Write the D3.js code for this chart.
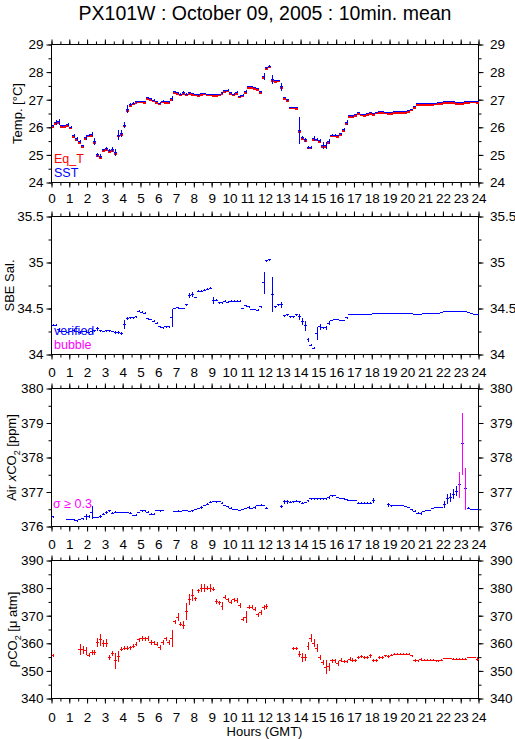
<!DOCTYPE html>
<html>
<head>
<meta charset="utf-8">
<script src="https://cdn.jsdelivr.net/npm/d3@7"></script>
<style>
  body { margin: 0; background: #fff; }
  svg { font-family: "Liberation Sans", Arial, Helvetica, sans-serif; }
  .axis path { display: none; }
  .axis line { stroke: #000; }
  .axis text { font-family: "Liberation Sans Narrow", "Arial Narrow", "Liberation Sans", Arial, sans-serif; font-size: 13.5px; fill: #000; }
</style>
</head>
<body>
<div class="chart"></div>
<script>
// 10-min means, 144 per day, index i -> hour i/6

const hourTicks = d3.range(0, 25, 1);

// Temp [°C]
const sst = [
  26.05, 26.18, 26.20, 26.05, 26.06, 26.10,
  26.00, 25.70, 25.58, 25.48, 25.33, 25.63,
  25.72, 25.75, 25.48, 25.00, 24.95, 25.18,
  25.24, 25.15, 25.20, 25.08, 25.72, 25.78,
  26.08, 26.65, 26.82, 26.88, 26.92, 26.94,
  26.94, 26.93, 27.07, 27.03, 26.98, 26.93,
  26.88, 26.95, 26.93, 26.92, 27.05, 27.29,
  27.25, 27.20, 27.25, 27.20, 27.25, 27.22,
  27.20, 27.18, 27.22, 27.23, 27.20, 27.20,
  27.18, 27.18, 27.20, 27.25, 27.32, 27.35,
  27.25, 27.20, 27.27, 27.13, 27.17, 27.29,
  27.47, 27.48, 27.45, 27.40, 27.29, 27.83,
  28.16, 28.22, 27.73, 27.70, 27.70, 27.47,
  27.08, 27.00, 26.72, 26.72, 26.71, 25.88,
  25.63, 25.54, 25.28, 25.28, 25.60, 25.57,
  25.52, 25.33, 25.33, 25.48, 25.72, 25.72,
  25.69, 25.76, 25.93, 26.17, 26.41, 26.41,
  26.45, 26.53, 26.48, 26.45, 26.50, 26.53,
  26.50, 26.55, 26.57, 26.57, 26.55, 26.53,
  26.53, 26.56, 26.57, 26.57, 26.57, 26.57,
  26.60, 26.65, 26.75, 26.87, 26.87, 26.87,
  26.87, 26.87, 26.87, 26.88, 26.89, 26.89,
  26.93, 26.93, 26.93, 26.92, 26.90, 26.89,
  26.89, 26.92, 26.94, 26.95, 26.95, 26.92
];
const sstErr = [
  .03, .10, .10, .03, .03, .04,
  .03, .05, .06, .05, .04, .10,
  .05, .07, .12, .08, .07, .05,
  .05, .05, .10, .12, .18, .12,
  .12, .14, .05, .03, .03, .02,
  .02, .02, .04, .03, .03, .03,
  .03, .03, .02, .03, .08, .04,
  .04, .03, .05, .03, .04, .02,
  .02, .03, .02, .02, .02, .02,
  .02, .02, .02, .03, .03, .03,
  .03, .03, .03, .03, .03, .05,
  .02, .03, .02, .02, .03, .12,
  .03, .02, .15, .02, .02, .15,
  .03, .03, .02, .02, .02, .50,
  .07, .06, .06, .06, .08, .06,
  .04, .12, .12, .08, .02, .02,
  .02, .03, .06, .08, .02, .02,
  .02, .02, .02, .02, .02, .02,
  .02, .02, .01, .01, .02, .02,
  .01, .01, .01, .01, .01, .01,
  .02, .02, .03, .01, .01, .01,
  .01, .01, .01, .01, .01, .01,
  .01, .01, .01, .01, .01, .01,
  .01, .02, .01, .01, .01, .02
];
const eqT = [
  26.03, 26.15, 26.17, 26.03, 26.04, 26.07,
  25.98, 25.68, 25.55, 25.45, 25.31, 25.60,
  25.69, 25.72, 25.45, 24.97, 24.92, 25.15,
  25.21, 25.12, 25.17, 25.05, 25.69, 25.75,
  26.05, 26.62, 26.79, 26.86, 26.90, 26.92,
  26.92, 26.91, 27.04, 27.00, 26.96, 26.91,
  26.86, 26.93, 26.91, 26.90, 27.02, 27.26,
  27.23, 27.19, 27.22, 27.18, 27.22, 27.20,
  27.18, 27.16, 27.20, 27.21, 27.18, 27.18,
  27.16, 27.16, 27.18, 27.22, 27.29, 27.32,
  27.22, 27.18, 27.24, 27.10, 27.14, 27.26,
  27.44, 27.45, 27.42, 27.37, 27.26, 27.80,
  28.13, 28.19, 27.70, 27.67, 27.68, 27.44,
  27.05, 26.97, 26.70, 26.70, 26.69, 25.86,
  25.60, 25.51, 25.26, 25.26, 25.57, 25.54,
  25.49, 25.31, 25.31, 25.45, 25.69, 25.69,
  25.66, 25.73, 25.90, 26.14, 26.38, 26.38,
  26.42, 26.50, 26.45, 26.42, 26.47, 26.50,
  26.47, 26.52, 26.54, 26.54, 26.52, 26.50,
  26.50, 26.53, 26.55, 26.55, 26.55, 26.55,
  26.58, 26.63, 26.72, 26.84, 26.84, 26.84,
  26.84, 26.84, 26.84, 26.85, 26.86, 26.86,
  26.90, 26.90, 26.90, 26.89, 26.87, 26.86,
  26.86, 26.89, 26.91, 26.92, 26.92, 26.89
];

// SBE salinity
const sal = [
  34.32, 34.32, 34.27, 34.25, 34.25, 34.24,
  34.25, 34.26, 34.25, 34.24, 34.25, 34.25,
  34.24, 34.25, 34.26, 34.28, 34.26, 34.25,
  34.26, 34.26, 34.25, 34.24, 34.24, 34.23,
  34.33, 34.39, 34.40, 34.40, 34.41, 34.47,
  34.46, 34.45, 34.39, 34.38, 34.36, 34.34,
  34.30, 34.29, 34.30, 34.30, 34.40, 34.50,
  34.51, 34.50, 34.50, 34.54, 34.64, 34.65,
  34.62, 34.69, 34.69, 34.70, 34.71, 34.72,
  34.59, 34.59, 34.56, 34.56, 34.58, 34.57,
  34.58, 34.58, 34.58, 34.58, 34.50, 34.53,
  34.52, 34.49, 34.49, 34.48, 34.52, 34.78,
  35.02, 35.03, 34.65, 34.52, 34.54, 34.54,
  34.42, 34.43, 34.41, 34.41, 34.43, 34.41,
  34.36, 34.31, 34.16, 34.10, 34.07, 34.23,
  34.30, 34.29, 34.29, 34.34, 34.37, 34.38,
  34.38, 34.37, 34.37, 34.40, 34.43, 34.43,
  34.43, 34.44, 34.44, 34.44, 34.44, 34.44,
  34.45, 34.45, 34.45, 34.45, 34.45, 34.45,
  34.45, 34.45, 34.45, 34.45, 34.45, 34.45,
  34.45, 34.45, 34.43, 34.44, 34.44, 34.45,
  34.45, 34.45, 34.45, 34.45, 34.45, 34.46,
  34.47, 34.47, 34.47, 34.47, 34.47, 34.47,
  34.47, 34.47, 34.46, 34.45, 34.44, 34.43
];
const salErr = [
  .01, .01, .02, .01, .01, .01,
  .01, .02, .01, .02, .01, .02,
  .01, .02, .01, .02, .01, .01,
  .01, .01, .01, .02, .02, .02,
  .05, .02, .01, .01, .01, .01,
  .01, .01, .01, .01, .01, .01,
  .01, .01, .01, .01, .10, .01,
  .01, .01, .01, .01, .03, .03,
  .01, .01, .01, .01, .01, .01,
  .04, .01, .01, .01, .01, .01,
  .01, .01, .01, .01, .01, .01,
  .01, .01, .01, .01, .01, .12,
  .01, .01, .19, .01, .01, .03,
  .01, .01, .01, .01, .01, .03,
  .04, .05, .02, .01, .01, .07,
  .03, .01, .02, .02, .01, .01,
  .01, .01, .01, .01, .00, .00,
  .00, .00, .00, .00, .00, .00,
  .00, .00, .00, .00, .00, .00,
  .00, .00, .00, .00, .00, .00,
  .00, .00, .00, .00, .00, .00,
  .00, .00, .00, .00, .00, .00,
  .00, .00, .00, .00, .00, .00,
  .00, .00, .00, .00, .00, .00
];

// Air xCO2 [ppm], null = no data
const xco2 = [
  376.28, null, null, null, null, 376.21,
  376.21, 376.19, 376.17, 376.20, 376.23, 376.28,
  376.30, 376.40, 376.26, 376.26, 376.29, 376.36,
  376.41, 376.46, 376.38, 376.41, 376.41, 376.41,
  376.41, 376.41, 376.38, 376.31, 376.33, 376.40,
  376.46, 376.46, 376.41, 376.36, 376.36, 376.46,
  376.46, 376.46, null, null, null, 376.43,
  376.44, 376.44, 376.46, 376.46, 376.43, 376.46,
  376.50, 376.53, 376.55, 376.60, 376.65, 376.70,
  376.72, 376.72, 376.72, 376.68, 376.60, 376.57,
  376.53, 376.50, 376.50, 376.47, 376.50, 376.53,
  376.55, 376.53, 376.55, 376.60, 376.62, 376.60,
  376.53, null, null, null, null, 376.59,
  376.72, 376.72, 376.70, 376.72, 376.73, 376.72,
  376.68, 376.70, 376.75, 376.80, 376.80, 376.80,
  376.80, 376.80, 376.80, 376.84, 376.89, 376.89,
  376.84, 376.82, 376.80, 376.77, 376.75, 376.75,
  376.75, 376.68, 376.68, 376.68, 376.68, 376.68,
  376.75, null, null, null, null, 376.63,
  376.60, 376.60, 376.60, 376.60, 376.60, 376.58,
  376.55, 376.49, 376.44, 376.39, 376.38, 376.43,
  376.46, 376.47, 376.53, 376.55, 376.55, 376.55,
  376.65, 376.80, 376.84, 376.94, 377.02, 377.21,
  378.40, 377.09, 376.53, 376.50, 376.50, 376.50
];
const xco2Err = [
  .02, 0, 0, 0, 0, .02,
  .02, .03, .03, .02, .03, .08,
  .04, .18, .02, .02, .03, .03,
  .04, .03, .03, .03, .02, .02,
  .02, .02, .03, .02, .03, .02,
  .03, .03, .03, .02, .03, .02,
  .03, .02, 0, 0, 0, .02,
  .03, .02, .02, .02, .02, .03,
  .02, .02, .03, .02, .02, .03,
  .02, .03, .02, .03, .02, .02,
  .03, .02, .02, .02, .02, .02,
  .03, .02, .03, .02, .03, .02,
  .03, 0, 0, 0, 0, .04,
  .06, .06, .03, .03, .03, .03,
  .02, .02, .03, .03, .02, .02,
  .02, .02, .02, .03, .03, .02,
  .02, .02, .02, .02, .02, .02,
  .02, .02, .02, .02, .02, .02,
  .08, 0, 0, 0, 0, .06,
  .03, .02, .02, .02, .02, .02,
  .02, .03, .03, .04, .04, .02,
  .02, .02, .02, .02, .02, .02,
  .10, .15, .12, .15, .15, .38,
  .90, .62, .03, .02, .02, .02
];

// pCO2 [µatm], null = no data
const pco2 = [
  355.7, null, null, null, null, null,
  null, null, null, 357.9, 357.6, 357.3,
  355.7, 356.6, 356.6, 360.3, 361.2, 360.0,
  360.0, 354.9, 356.3, 353.6, 355.1, 357.9,
  358.2, 358.2, 358.4, 359.0, 359.7, 361.2,
  361.8, 361.6, 361.8, 360.3, 360.2, 359.7,
  358.5, 360.3, 361.6, 360.3, 361.8, 367.8,
  369.4, 366.9, 366.6, 371.5, 375.7, 377.5,
  376.1, 379.0, 380.0, 380.0, 380.0, 380.0,
  379.6, 375.1, 374.7, 373.5, 376.7, 375.7,
  374.9, 375.7, 375.5, 373.7, 368.7, 369.4,
  373.1, 373.1, 372.4, 370.3, 371.2, 372.9,
  373.3, null, null, null, null, null,
  null, null, null, 358.2, 358.2, 356.1,
  354.9, 354.9, 359.0, 361.8, 360.0, 358.2,
  354.9, 353.0, 351.3, 351.5, 353.6, 353.6,
  352.7, 353.9, 353.3, 353.3, 354.3, 353.9,
  353.7, 354.8, 355.1, 354.8, 354.9, 355.4,
  353.9, 353.9, 354.9, 354.9, 355.4, 355.1,
  355.7, 356.1, 356.1, 356.1, 356.1, 356.1,
  356.1, 355.4, 353.9, 353.6, 354.2, 353.9,
  353.9, 353.9, 353.9, 353.7, 353.7, 353.9,
  354.5, 354.5, 354.5, 354.2, 354.2, 354.2,
  354.2, 354.2, 354.8, 354.8, 354.8, 354.3
];
const pco2Err = [
  .5, 0, 0, 0, 0, 0,
  0, 0, 0, 2.0, 1.5, 1.5,
  .8, .8, .8, 1.5, 2.0, 1.2,
  1.5, .8, .8, 3.0, 2.0, .8,
  .8, .8, .8, .8, .8, .8,
  .8, .8, .8, .8, .8, .8,
  .8, .8, .8, .8, 3.0, .8,
  1.5, .8, 1.5, 3.0, 2.0, 2.0,
  .8, .8, 1.5, 1.5, .8, 1.5,
  .8, .8, .8, 1.5, .8, .8,
  .8, .8, .8, .8, .8, 2.2,
  .8, .8, .8, .8, .8, .8,
  .8, 0, 0, 0, 0, 0,
  0, 0, 0, .6, .6, 1.2,
  1.5, 1.3, 1.5, 1.5, 1.5, 1.5,
  .8, .8, 2.5, 1.5, .8, .8,
  .8, .6, .6, .6, .6, .6,
  .6, .6, .6, .6, .6, .6,
  .5, .5, .5, .5, .5, .5,
  .4, .4, .3, .3, .3, .3,
  .3, .5, .5, .5, .5, .3,
  .3, .3, .3, .3, .3, .3,
  .3, .3, .3, .3, .3, .3,
  .3, .3, .3, .3, .3, .8
];

const W = 515, H = 739;
const left = 51.5, right = 478.5;

const svg = d3.select('.chart').append('svg')
  .attr('width', W)
  .attr('height', H);

const x = d3.scaleLinear().domain([0, 24]).range([left, right]);

const panels = [
  {top: 44.5, bottom: 182.5, domain: [24, 29], major: 1, minor: 0.5, fmt: d3.format('d'), label: 'Temp. [°C]', lx: 17.5, xBottom: 11, xTop: null},
  {top: 216.5, bottom: 354.5, domain: [34, 35.5], major: 0.5, minor: 0.25, fmt: d => String(+d.toFixed(2)), label: 'SBE Sal.', lx: 9, xBottom: null, xTop: null},
  {top: 388.5, bottom: 526.5, domain: [376, 380], major: 1, minor: 0.5, fmt: d3.format('d'), label: 'xco2', lx: 11, xBottom: null, xTop: 8},
  {top: 560.5, bottom: 698.5, domain: [340, 390], major: 10, minor: 5, fmt: d3.format('d'), label: 'pco2', lx: 12.5, xBottom: 14, xTop: 8}
];

panels.forEach(p => {
  p.y = d3.scaleLinear().domain(p.domain).range([p.bottom, p.top]);
  const g = svg.append('g');
  p.g = g;

  // x minor / major ticks, top and bottom
  const xMinor = d3.range(0, 24.01, 0.5);
  g.append('g').attr('class', 'axis')
    .attr('transform', `translate(0,${p.bottom})`)
    .call(d3.axisBottom(x).tickValues(xMinor).tickSize(3).tickFormat(''));
  g.append('g').attr('class', 'axis')
    .attr('transform', `translate(0,${p.top})`)
    .call(d3.axisTop(x).tickValues(xMinor).tickSize(3).tickFormat(''));
  g.append('g').attr('class', 'axis')
    .attr('transform', `translate(0,${p.bottom})`)
    .call(d3.axisBottom(x).tickValues(hourTicks).tickSize(5)
      .tickPadding(p.xBottom === null ? 0 : p.xBottom - 5)
      .tickFormat(p.xBottom === null ? '' : d3.format('d')));
  g.append('g').attr('class', 'axis')
    .attr('transform', `translate(0,${p.top})`)
    .call(d3.axisTop(x).tickValues(hourTicks).tickSize(5)
      .tickPadding(p.xTop === null ? 0 : p.xTop - 5 + 4)
      .tickFormat(p.xTop === null ? '' : d3.format('d')));

  // y ticks left and right
  const yMinor = d3.range(p.domain[0], p.domain[1] + 1e-6, p.minor);
  const yMajor = d3.range(p.domain[0], p.domain[1] + 1e-6, p.major);
  g.append('g').attr('class', 'axis')
    .attr('transform', `translate(${left},0)`)
    .call(d3.axisLeft(p.y).tickValues(yMinor).tickSize(3).tickFormat(''));
  g.append('g').attr('class', 'axis')
    .attr('transform', `translate(${right},0)`)
    .call(d3.axisRight(p.y).tickValues(yMinor).tickSize(3).tickFormat(''));
  g.append('g').attr('class', 'axis')
    .attr('transform', `translate(${left},0)`)
    .call(d3.axisLeft(p.y).tickValues(yMajor).tickSize(5).tickPadding(3).tickFormat(p.fmt));
  g.append('g').attr('class', 'axis')
    .attr('transform', `translate(${right},0)`)
    .call(d3.axisRight(p.y).tickValues(yMajor).tickSize(5).tickPadding(6.5).tickFormat(p.fmt));

  g.append('rect')
    .attr('x', left).attr('y', p.top)
    .attr('width', right - left).attr('height', p.bottom - p.top)
    .attr('fill', 'none').attr('stroke', '#000');

  // y title
  const t = g.append('text')
    .attr('transform', `translate(${p.lx},${(p.top + p.bottom) / 2}) rotate(-90)`)
    .attr('text-anchor', 'middle')
    .attr('dy', '0.35em')
    .attr('font-size', 13);
  if (p.label === 'xco2') {
    t.append('tspan').text('Air ');
    t.append('tspan').attr('font-style', 'italic').text('x');
    t.append('tspan').text('CO');
    t.append('tspan').attr('font-size', 9).attr('dy', 4).text('2');
    t.append('tspan').attr('dy', -4).text(' [ppm]');
  } else if (p.label === 'pco2') {
    t.append('tspan').text('ρCO');
    t.append('tspan').attr('font-size', 9).attr('dy', 4).text('2');
    t.append('tspan').attr('dy', -4).text(' [μ atm]');
  } else {
    t.text(p.label);
  }
});

// draw 10-min crosses: horizontal bar over the interval, vertical error bar
function drawSeries(p, vals, errs, color, opts = {}) {
  const pts = vals.map((v, i) => ({i, v, e: errs ? errs[i] : 0})).filter(d => d.v !== null);
  const g = p.g.append('g').attr('shape-rendering', 'crispEdges');
  g.selectAll('.h')
    .data(pts)
    .enter()
    .append('line')
    .attr('x1', d => x(d.i / 6))
    .attr('x2', d => x((d.i + 1) / 6))
    .attr('y1', d => p.y(d.v) + (opts.shift || 0))
    .attr('y2', d => p.y(d.v) + (opts.shift || 0))
    .attr('stroke', color)
    .attr('stroke-width', opts.width || 1);
  if (!errs) return;
  g.selectAll('.v')
    .data(pts.filter(d => d.e > 0))
    .enter()
    .append('line')
    .attr('x1', d => Math.round(x((d.i + 0.5) / 6)) + 0.5)
    .attr('x2', d => Math.round(x((d.i + 0.5) / 6)) + 0.5)
    .attr('y1', d => p.y(d.v - d.e))
    .attr('y2', d => p.y(d.v + d.e))
    .attr('stroke', d => (opts.sigma && d.e >= opts.sigma) ? '#ff00ff' : color);
}

drawSeries(panels[0], eqT, null, '#ff0000', {width: 2, shift: 0.5});
drawSeries(panels[0], sst, sstErr, '#0000ff');
drawSeries(panels[1], sal, salErr, '#0000ff');
drawSeries(panels[2], xco2, xco2Err, '#0000ff', {sigma: 0.3});
drawSeries(panels[3], pco2, pco2Err, '#ff0000');

// legends
const legend = [
  {text: 'Eq_T', color: '#ff0000', x: 54, y: 163},
  {text: 'SST', color: '#0000ff', x: 54, y: 177},
  {text: 'verified', color: '#0000ff', x: 54, y: 335},
  {text: 'bubble', color: '#ff00ff', x: 54, y: 349},
  {text: 'σ ≥ 0.3', color: '#ff00ff', x: 53, y: 508}
];
svg.selectAll('.legend')
  .data(legend)
  .enter()
  .append('text')
  .attr('class', 'legend')
  .attr('x', d => d.x)
  .attr('y', d => d.y)
  .attr('font-size', 12.5)
  .attr('fill', d => d.color)
  .text(d => d.text);

svg.append('text')
  .attr('x', 265)
  .attr('y', 20)
  .attr('text-anchor', 'middle')
  .attr('font-size', 19.5)
  .text('PX101W : October 09, 2005 : 10min. mean');

svg.append('text')
  .attr('x', 264.5)
  .attr('y', 736)
  .attr('text-anchor', 'middle')
  .attr('font-size', 13)
  .text('Hours (GMT)');
</script>
</body>
</html>
